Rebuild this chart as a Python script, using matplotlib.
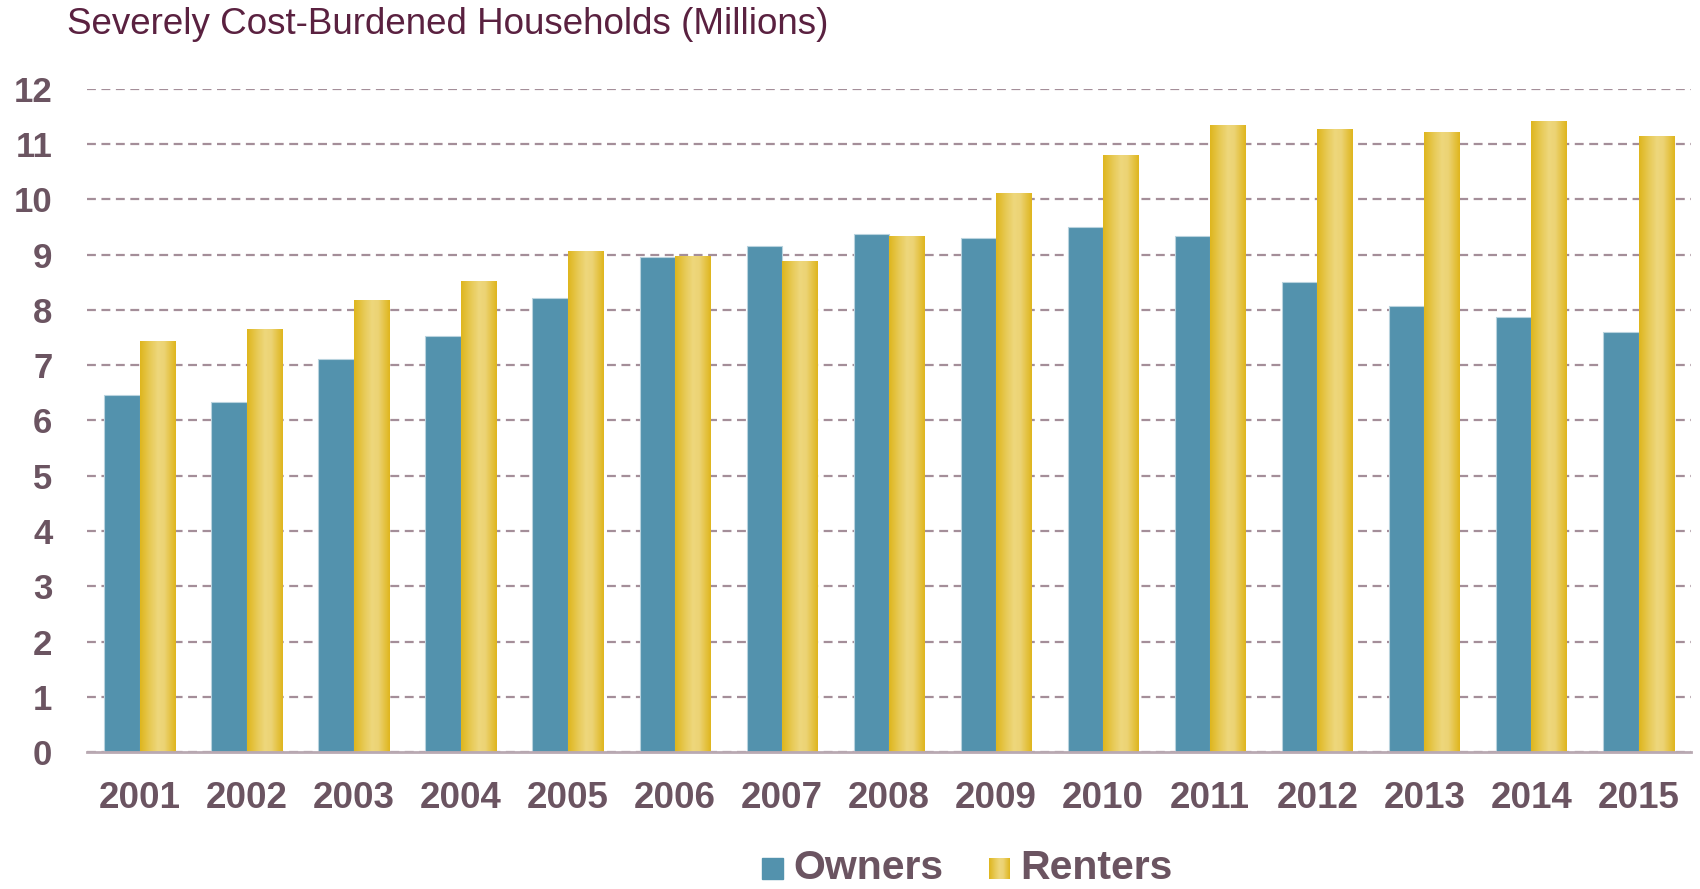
import matplotlib
matplotlib.use("Agg")
import matplotlib.pyplot as plt
import numpy as np
from matplotlib.colors import LinearSegmentedColormap
from matplotlib.patches import Rectangle


years = ["2001", "2002", "2003", "2004", "2005", "2006", "2007", "2008",
         "2009", "2010", "2011", "2012", "2013", "2014", "2015"]
owners = [6.47, 6.33, 7.12, 7.53, 8.22, 8.96, 9.16, 9.37, 9.31, 9.51,
          9.34, 8.50, 8.07, 7.88, 7.61]
renters = [7.43, 7.65, 8.18, 8.51, 9.06, 8.96, 8.88, 9.33, 10.10, 10.80,
           11.34, 11.26, 11.22, 11.42, 11.14]
y_ticks = list(range(0, 13))

TITLE_C = "#5a2140"
TEXT_C = "#6b5461"
GRID_C = "#a48e99"
OWNER_C = "#5392ad"

plt.rcParams["font.family"] = ["Liberation Sans", "DejaVu Sans"]

gold = LinearSegmentedColormap.from_list(
    "gold",
    [(0.0, "#dfb61e"), (0.3, "#e8cb5a"), (0.5, "#eed77c"),
     (0.68, "#ecd374"), (1.0, "#dfb61e")],
)
grad = np.linspace(0, 1, 64).reshape(1, -1)

fig = plt.figure(figsize=(17, 8.89), dpi=100)
ax = fig.add_axes([0.0512, 0.1541, 0.9435, 0.7458])

x = np.arange(len(years))
w = 0.33
ax.bar(x - w / 2, owners, w, color=OWNER_C, edgecolor="#b9d3de",
       linewidth=0.8, zorder=2)
rbars = ax.bar(x + w / 2, renters, w, color="#e6c64a", linewidth=0, zorder=2)
for b in rbars:
    x0, h = b.get_x(), b.get_height()
    ax.imshow(grad, cmap=gold, extent=[x0, x0 + b.get_width(), 0, h],
              aspect="auto", interpolation="bilinear", zorder=2.1)

ax.set_xlim(-0.49, len(years) - 0.51)
ax.set_ylim(0, 12)
ax.set_yticks(y_ticks)
ax.set_xticks(x)
ax.set_xticklabels(years)
ax.yaxis.grid(True, color=GRID_C, linestyle=(0, (4, 2.5)), linewidth=1.6)
ax.set_axisbelow(True)
for s in ["top", "right", "left"]:
    ax.spines[s].set_visible(False)
ax.spines["bottom"].set_color("#b9a9b2")
ax.spines["bottom"].set_linewidth(2)
ax.spines["bottom"].set_zorder(3)
ax.tick_params(axis="y", length=0, pad=25, labelsize=25, labelcolor=TEXT_C)
ax.tick_params(axis="x", length=0, pad=21, labelsize=26.5, labelcolor=TEXT_C)
for lab in ax.get_xticklabels() + ax.get_yticklabels():
    lab.set_fontweight("bold")

fig.text(67 / 1700, 1 - 25 / 889, "Severely Cost-Burdened Households (Millions)",
         fontsize=26.5, color=TITLE_C, ha="left", va="center")

# legend drawn by hand so the renters swatch can carry the gradient
ly = 1 - 868 / 889
sq = 21
fig.patches.append(Rectangle((762 / 1700, ly - sq / 2 / 889), sq / 1700, sq / 889,
                             transform=fig.transFigure, color=OWNER_C))
fig.text(793 / 1700, ly, "Owners", fontsize=29.5, fontweight="bold",
         color=TEXT_C, ha="left", va="center")
sw = fig.add_axes([989 / 1700, ly - sq / 2 / 889, sq / 1700, sq / 889])
sw.imshow(grad, cmap=gold, aspect="auto", interpolation="bilinear")
sw.axis("off")
fig.text(1020 / 1700, ly, "Renters", fontsize=29.5, fontweight="bold",
         color=TEXT_C, ha="left", va="center")

fig.savefig("out.png", dpi=100)
